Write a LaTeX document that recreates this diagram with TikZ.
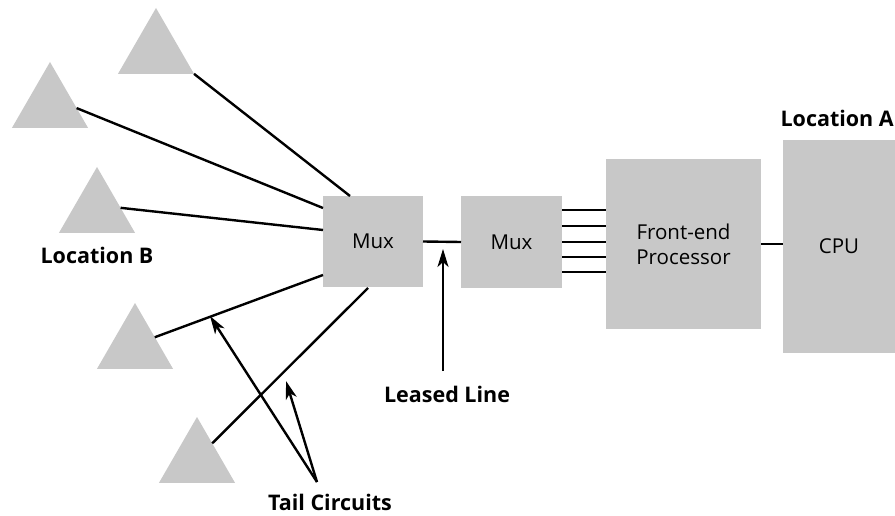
\documentclass[tikz,border=0pt]{standalone}
\usepackage{fontspec}
\setmainfont{Open Sans}
\usetikzlibrary{shapes.geometric,calc,arrows.meta}
\definecolor{boxgray}{RGB}{200,200,200}
\begin{document}
\begin{tikzpicture}[x=1pt,y=-1pt,
  site/.style={regular polygon,regular polygon sides=3,fill=boxgray,
    minimum size=87.8pt,inner sep=0pt,outer sep=0pt},
  unit/.style={fill=boxgray,inner sep=0pt,outer sep=0pt,font=\fontsize{20.5}{25}\selectfont,align=center},
  wire/.style={line width=2.4pt,black},
  pointer/.style={line width=2.4pt,-{Stealth[length=18pt,width=11pt,inset=5pt]}},
  caption/.style={font=\bfseries\fontsize{21.5}{25}\selectfont,inner sep=0pt}]
\clip (0,0) rectangle (895,516);
\fill[white] (0,0) rectangle (895,516);

% remote sites at location B
\node[site] (t1) at (156,51.9) {};
\node[site] (t2) at (50,105.9) {};
\node[site] (t3) at (97,210.9) {};
\node[site] (t4) at (135,346.9) {};
\node[site] (t5) at (197,460.9) {};

% equipment
\node[unit,minimum width=100pt,minimum height=91pt] (mux1) at (373,241.5) {Mux};
\node[unit,minimum width=101pt,minimum height=92pt] (mux2) at (511.5,242) {Mux};
\node[unit,minimum width=155pt,minimum height=170pt] (fep) at (683.5,244) {Front-end\\Processor};
\node[unit,minimum width=112pt,minimum height=213pt] (cpu) at (839,246.5) {CPU};

% labels
\node[caption,anchor=east] (locA) at (894,118) {Location A};
\node[caption] (locB) at (97,255) {Location B};
\node[caption] (lease) at (447,394) {Leased Line};
\node[caption] (tail) at (330,502) {Tail Circuits};

% tail circuits from the sites to the first multiplexer
\coordinate (m1a) at (350,196);
\coordinate (m1b) at (mux1.west |- 0,208);
\coordinate (m1c) at (mux1.west |- 0,230);
\coordinate (m1d) at (mux1.west |- 0,275);
\coordinate (m1e) at (368,288);
\draw[wire] (t1.corner 3) -- (m1a);
\draw[wire] ($(t2.corner 1)!0.70!(t2.corner 3)$) -- (m1b);
\draw[wire] ($(t3.corner 1)!0.62!(t3.corner 3)$) -- (m1c);
\draw[wire] ($(t4.corner 1)!0.52!(t4.corner 3)$) -- (m1d);
\draw[wire] ($(t5.corner 1)!0.40!(t5.corner 3)$) -- (m1e);

% leased line between the multiplexers
\draw[wire] (mux1.east) -- (mux2.west);

% multiplexer to front-end processor channels
\foreach \dy in {-32,-16,0,15,30}
  \draw[wire] ($(mux2.east)+(0,\dy)$) -- ($(mux2.east -| fep.west)+(0,\dy)$);

% front-end processor to CPU
\draw[wire] (fep.east) -- (fep.east -| cpu.west);

% pointers
\coordinate (leasetip) at (443,249);
\draw[pointer] (leasetip |- 0,371) -- (leasetip);
\coordinate (tailroot) at (317,482);
\coordinate (tailtipA) at (210,316);
\coordinate (tailtipB) at (286,381);
\draw[pointer] (tailroot) -- (tailtipA);
\draw[pointer] (tailroot) -- (tailtipB);
\end{tikzpicture}
\end{document}
